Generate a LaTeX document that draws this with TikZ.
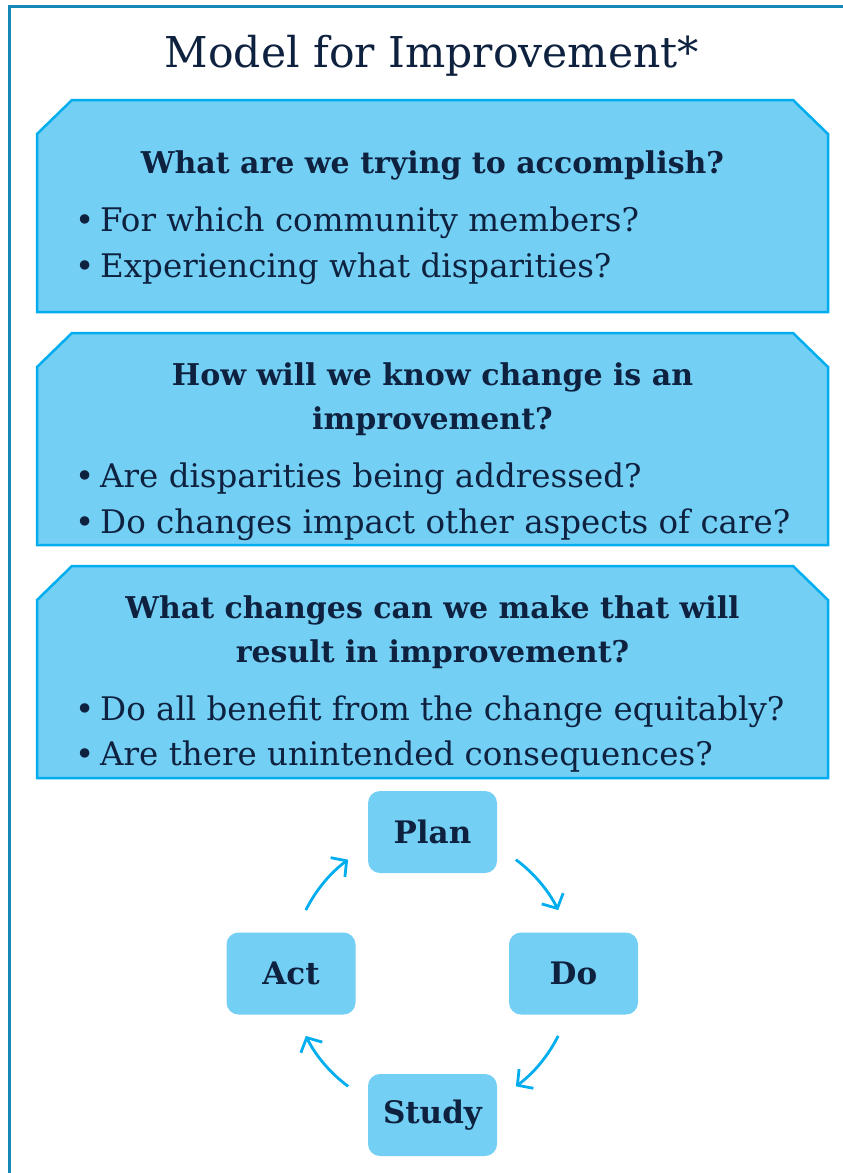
\documentclass[tikz,border=0pt]{standalone}
\usepackage{fontspec}
\setmainfont{DejaVu Serif}
\usetikzlibrary{calc,arrows.meta}
\definecolor{frameblue}{RGB}{22,136,184}
\definecolor{boxfill}{RGB}{116,207,244}
\definecolor{boxline}{RGB}{0,174,239}
\definecolor{ink}{RGB}{14,34,64}

\begin{document}
\begin{tikzpicture}[x=1pt,y=1pt,
	qbox/.style={draw=boxline,fill=boxfill,line width=2.5pt,line join=miter},
	qhead/.style={anchor=base,text=ink,inner sep=0,font=\fontsize{30}{36}\selectfont\bfseries},
	qitem/.style={anchor=base west,text=ink,inner sep=0,font=\fontsize{32.5}{38}\selectfont},
	pdsa/.style={fill=boxfill,rounded corners=12pt,minimum width=129pt,minimum height=82pt,text=ink,font=\fontsize{31}{36}\selectfont\bfseries},
	cycarrow/.style={draw=boxline,line width=2.8pt,-{Straight Barb[length=11pt,width=24pt]}}]
	\useasboundingbox (0,0) rectangle (843,-1173);
	\draw[frameblue,line width=3pt] (9.5,-1173) -- (9.5,-6) -- (843,-6);
	\node[anchor=base,text=ink,inner sep=0,font=\fontsize{42.5}{48}\selectfont] (title) at (432,-67) {Model for Improvement*};
	\foreach \t in {100,333,566}
		\draw[qbox] (37,-\t-212) -- (37,-\t-34) -- (72,-\t) -- (793,-\t) -- (828,-\t-34) -- (828,-\t-212) -- cycle;
	\node[qhead] (h1) at (432.5,-173) {What are we trying to accomplish?};
	\node[qitem] (i1a) at (75,-231) {\makebox[25pt][l]{\textbullet}For which community members?};
	\node[qitem] (i1b) at (75,-277) {\makebox[25pt][l]{\textbullet}Experiencing what disparities?};
	\node[qhead] (h2a) at (432.5,-385) {How will we know change is an};
	\node[qhead] (h2b) at (432.5,-429) {improvement?};
	\node[qitem] (i2a) at (75,-487) {\makebox[25pt][l]{\textbullet}Are disparities being addressed?};
	\node[qitem] (i2b) at (75,-533) {\makebox[25pt][l]{\textbullet}Do changes impact other aspects of care?};
	\node[qhead] (h3a) at (432.5,-618) {What changes can we make that will};
	\node[qhead] (h3b) at (432.5,-662) {result in improvement?};
	\node[qitem] (i3a) at (75,-720) {\makebox[25pt][l]{\textbullet}Do all benefit from the change equitably?};
	\node[qitem] (i3b) at (75,-765) {\makebox[25pt][l]{\textbullet}Are there unintended consequences?};
	\node[pdsa] (plan) at (432.5,-832) {Plan};
	\node[pdsa] (act) at (291,-973.5) {Act};
	\node[pdsa] (do) at (573.5,-973.5) {Do};
	\node[pdsa] (study) at (432.5,-1115) {Study};
	\coordinate (hub) at (432,-973);
	\foreach \s in {153.5,53.5,-26.5,-126.5}
		\draw[cycarrow] ($(hub)+(\s:141)$) arc[start angle=\s,end angle=\s-27,radius=141pt];
\end{tikzpicture}
\end{document}
